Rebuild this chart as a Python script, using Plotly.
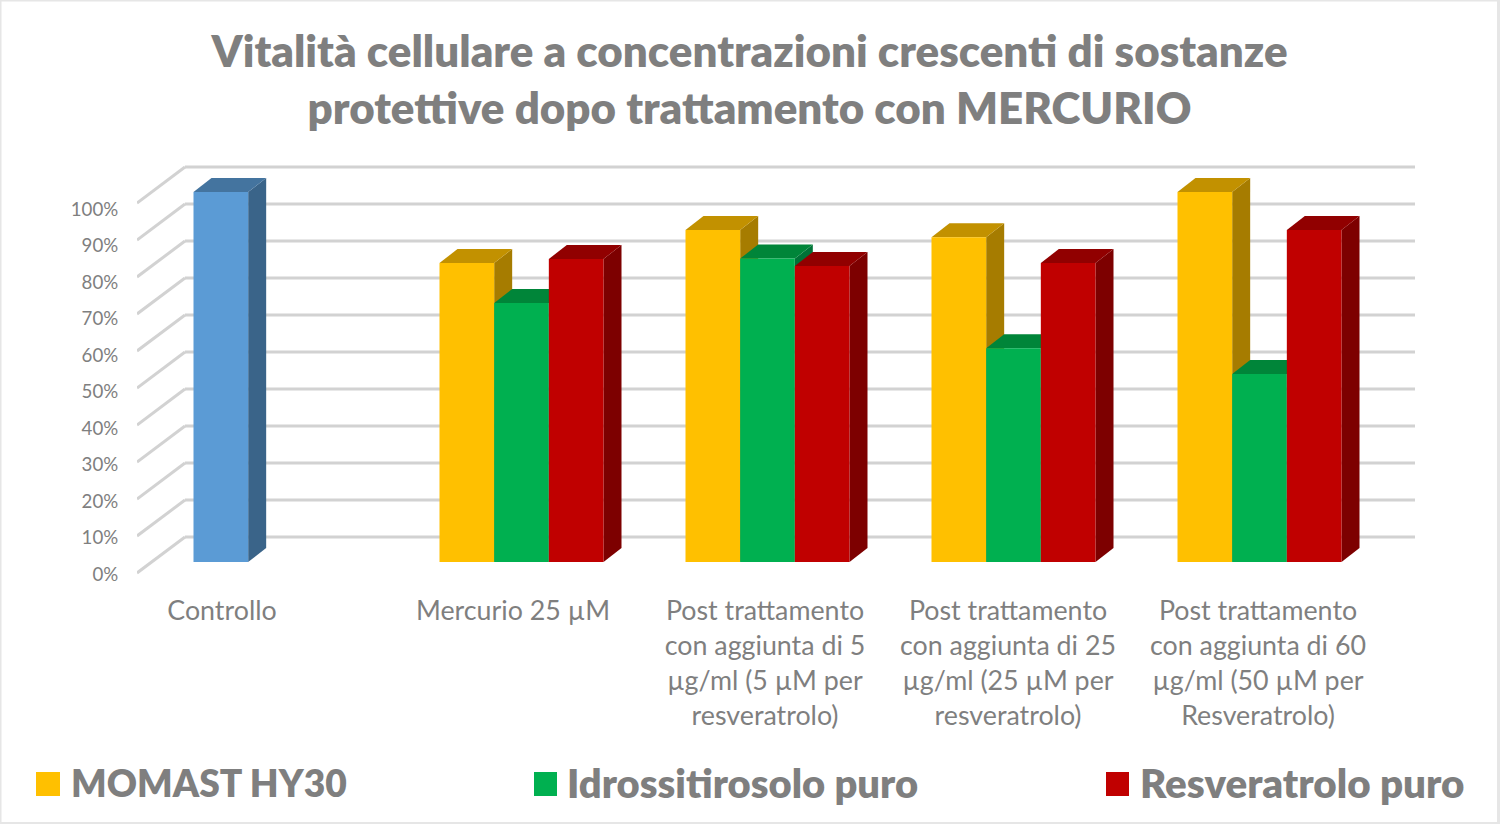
import plotly.graph_objects as go

categories = ["Controllo", "Mercurio 25 µM",
              "Post trattamento<br>con aggiunta di 5<br>µg/ml (5 µM per<br>resveratrolo)",
              "Post trattamento<br>con aggiunta di 25<br>µg/ml (25 µM per<br>resveratrolo)",
              "Post trattamento<br>con aggiunta di 60<br>µg/ml (50 µM per<br>Resveratrolo)"]
series_names = ["MOMAST HY30", "Idrossitirosolo puro", "Resveratrolo puro"]
momast = [100, 80.8, 89.7, 87.8, 100]
idrossitirosolo = [None, 70, 82, 57.8, 50.8]
resveratrolo = [None, 81.9, 80, 80.8, 89.7]
y_ticks = [0, 10, 20, 30, 40, 50, 60, 70, 80, 90, 100]

W, H = 1500, 824
FONT = "Lato, Carlito, Calibri, sans-serif"
GREY = "#7F7F7F"
# pixel layout of the plot area; the value 0 sits at ZERO_PX, the axis runs a little lower
PL, PR, PT, PB = 137, 1415, 160, 577
ZERO_PX = 573
GROUP0, PERIOD = 275.5, 246    # px of first group centre, px between groups
PXU = 3.7                      # px per percent
px2x = lambda p: (p - GROUP0) / PERIOD
label_px = [222, 513, 765, 1008, 1258]
BASE = 11 / PXU
BAR_DX, BAR_DY = 18 / PERIOD, 14 / PXU
WALL_DX, WALL_DY = 48 / PERIOD, 36 / PXU
BARGAP = 1 - 164 / PERIOD
BW = (1 - BARGAP) / 3

series = [momast, idrossitirosolo, resveratrolo]
front = ["#FFC000", "#00B050", "#C00000"]
top = ["#C29100", "#008539", "#910000"]
side = ["#A67C00", "#007337", "#7D0000"]
blue = ("#5B9BD5", "#44749F", "#3A6489")

shapes = []
# grid: back wall lines and left wall diagonals
for t in y_ticks:
    shapes.append(dict(type="line", layer="below", xref="x", yref="y",
                       x0=px2x(PL), y0=t, x1=px2x(PL) + WALL_DX, y1=t + WALL_DY,
                       line=dict(color="#D2D2D2", width=3)))
    shapes.append(dict(type="line", layer="below", xref="x", yref="y",
                       x0=px2x(PL) + WALL_DX, y0=t + WALL_DY, x1=px2x(PR), y1=t + WALL_DY,
                       line=dict(color="#D2D2D2", width=3)))

def poly(pts, color):
    path = "M " + " L ".join(f"{a},{b}" for a, b in pts) + " Z"
    return dict(type="path", layer="below", xref="x", yref="y", path=path,
                fillcolor=color, line=dict(width=0))

# depth faces of every bar, computed from the values
for s, vals in enumerate(series):
    for i, v in enumerate(vals):
        if v is None:
            continue
        c_top, c_side = (blue[1], blue[2]) if (i == 0 and s == 0) else (top[s], side[s])
        x0 = i - 1.5 * BW + s * BW
        x1 = x0 + BW
        t = v + BASE
        shapes.append(poly([(x1, BASE), (x1 + BAR_DX, BASE + BAR_DY), (x1 + BAR_DX, t + BAR_DY), (x1, t)], c_side))
        shapes.append(poly([(x0, t), (x0 + BAR_DX, t + BAR_DY), (x1 + BAR_DX, t + BAR_DY), (x1, t)], c_top))

paper_x = lambda p: (p - PL) / (PR - PL)
paper_y = lambda p: (PB - p) / (PB - PT)

# frame
for rect in [(0, 0, 1.5, H), (W - 3, 0, W, H), (0, H - 2, W, H), (0, 0, W, 1.5)]:
    shapes.append(dict(type="rect", layer="above", xref="paper", yref="paper",
                       x0=paper_x(rect[0]), x1=paper_x(rect[2]),
                       y0=paper_y(rect[1]), y1=paper_y(rect[3]),
                       fillcolor="#E6E6E6", line=dict(width=0)))

fig = go.Figure()
for s, (name, vals) in enumerate(zip(series_names, series)):
    colors = [blue[0] if (i == 0 and s == 0) else front[s] for i in range(len(vals))]
    fig.add_trace(go.Bar(x=list(range(len(vals))), y=vals, base=BASE, name=name,
                         marker=dict(color=colors, line=dict(width=0))))

# legend entries
legend_px = [(36, 60, 69, 37.2), (534, 557, 565, 39.9), (1106, 1129, 1138, 40.3)]
annotations = []
for (a, b, tx, fs), name, col in zip(legend_px, series_names, front):
    shapes.append(dict(type="rect", layer="above", xref="paper", yref="paper",
                       x0=paper_x(a), x1=paper_x(b), y0=paper_y(772), y1=paper_y(796),
                       fillcolor=col, line=dict(width=0)))
    annotations.append(dict(text=name, xref="paper", yref="paper", showarrow=False,
                            x=paper_x(tx), y=paper_y(782),
                            xanchor="left", yanchor="middle",
                            font=dict(family=FONT, size=fs, color=GREY, weight=800)))

fig.update_layout(
    width=W, height=H, autosize=False,
    margin=dict(l=PL, r=W - PR, t=PT, b=H - PB, pad=0),
    paper_bgcolor="white", plot_bgcolor="rgba(0,0,0,0)",
    barmode="group", bargap=BARGAP, bargroupgap=0, showlegend=False,
    title=dict(text="Vitalità cellulare a concentrazioni crescenti di sostanze<br>protettive dopo trattamento con MERCURIO",
               x=749.5 / W, xref="container", xanchor="center", y=1 - 67 / H, yanchor="middle",
               font=dict(family=FONT, size=43.9, color=GREY, weight=800)),
    xaxis=dict(range=[px2x(PL), px2x(PR)], tickmode="array",
               tickvals=[px2x(p) for p in label_px], ticktext=categories,
               tickfont=dict(family=FONT, size=26.8, color=GREY), showgrid=False, zeroline=False,
               showline=False, ticks="outside", ticklen=10, tickcolor="rgba(0,0,0,0)"),
    yaxis=dict(range=[(ZERO_PX - PB) / PXU, (ZERO_PX - PT) / PXU], tickmode="array",
               tickvals=[(t * 3.65 - 1) / PXU for t in y_ticks],
               ticktext=[f"{t}%" for t in y_ticks],
               tickfont=dict(family=FONT, size=18.7, color=GREY), showgrid=False, zeroline=False,
               showline=False, ticks="outside", ticklen=14, tickcolor="rgba(0,0,0,0)"),
    shapes=shapes, annotations=annotations,
)
fig.write_html("out.html", config=dict(displayModeBar=False),
               post_script="document.body.style.margin='0';document.body.style.overflow='hidden';")
